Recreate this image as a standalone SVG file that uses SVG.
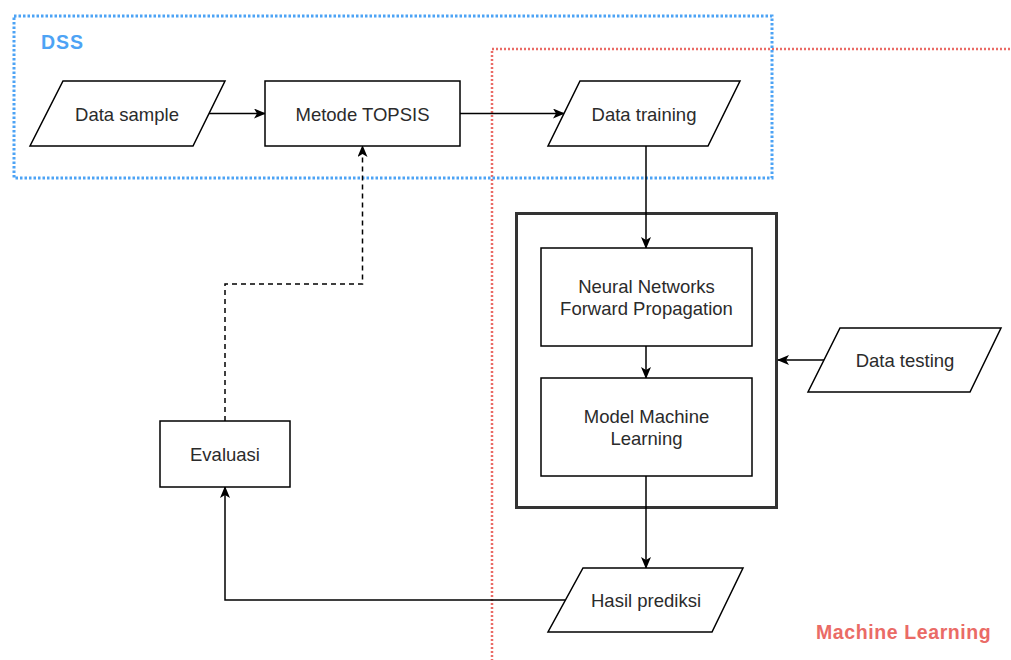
<svg xmlns="http://www.w3.org/2000/svg" width="1011" height="660" viewBox="0 0 1011 660">
  <style>
    .shape { fill: #ffffff; stroke: #000000; stroke-width: 1.5; }
    .label { font-family: "Liberation Sans", Arial, sans-serif; font-size: 18.5px; fill: #2b2b2b; text-anchor: middle; }
    .title { font-family: "Liberation Sans", Arial, sans-serif; font-size: 19.5px; font-weight: bold; }
    .edge { fill: none; stroke: #000000; stroke-width: 1.5; }
    .dashed { stroke-dasharray: 5 4; }
  </style>
  <defs>
    <marker id="arrow" viewBox="0 0 12 10" refX="11" refY="5" markerWidth="12" markerHeight="10" markerUnits="userSpaceOnUse" orient="auto">
      <path d="M0,0 L12,5 L0,10 L3,5 z" fill="#000000"/>
    </marker>
  </defs>

  <rect width="1011" height="660" fill="#ffffff"/>

  <!-- swimlane-like groupings -->
  <g id="ml-region">
    <rect x="492" y="49" width="620" height="700" fill="none" stroke="#ea6b66" stroke-width="2.5" stroke-dasharray="2 2"/>
    <text class="title" x="816" y="639" fill="#ea6b66" letter-spacing="0.6">Machine Learning</text>
  </g>
  <g id="dss-region">
    <rect x="14" y="16" width="758" height="162" fill="none" stroke="#4da3f5" stroke-width="3" stroke-dasharray="2.5 2"/>
    <text class="title" x="41" y="49" fill="#4da3f5" letter-spacing="1">DSS</text>
  </g>

  <!-- model container -->
  <g id="model-container">
    <rect x="516.5" y="213.5" width="260" height="294" fill="none" stroke="#333333" stroke-width="3"/>
  </g>

  <g id="connectors">
    <line class="edge" x1="209" y1="113.5" x2="265" y2="113.5" marker-end="url(#arrow)"/>
    <line class="edge" x1="460" y1="113.5" x2="564" y2="113.5" marker-end="url(#arrow)"/>
    <line class="edge" x1="646" y1="146" x2="646" y2="248" marker-end="url(#arrow)"/>
    <line class="edge" x1="646" y1="346" x2="646" y2="378" marker-end="url(#arrow)"/>
    <line class="edge" x1="646" y1="476" x2="646" y2="568" marker-end="url(#arrow)"/>
    <line class="edge" x1="824" y1="360" x2="778" y2="360" marker-end="url(#arrow)"/>
    <polyline class="edge" points="565,600 225,600 225,487" marker-end="url(#arrow)"/>
    <polyline class="edge dashed" points="225,421 225,284 362.5,284 362.5,146" marker-end="url(#arrow)"/>
  </g>

  <g id="data-sample">
    <polygon class="shape" points="63,81 225,81 193,146 30,146"/>
    <text class="label" x="127" y="120.5">Data sample</text>
  </g>

  <g id="metode-topsis">
    <rect class="shape" x="265" y="81" width="195" height="65"/>
    <text class="label" x="362.5" y="120.5">Metode TOPSIS</text>
  </g>

  <g id="data-training">
    <polygon class="shape" points="580,81 740,81 708,146 548,146"/>
    <text class="label" x="644" y="120.5">Data training</text>
  </g>

  <g id="neural-networks">
    <rect class="shape" x="541" y="248" width="211" height="98"/>
    <text class="label" x="646.5" y="293">Neural Networks</text>
    <text class="label" x="646.5" y="315">Forward Propagation</text>
  </g>

  <g id="model-ml">
    <rect class="shape" x="541" y="378" width="211" height="98"/>
    <text class="label" x="646.5" y="423">Model Machine</text>
    <text class="label" x="646.5" y="445">Learning</text>
  </g>

  <g id="data-testing">
    <polygon class="shape" points="840,328 1001,328 970,392 808,392"/>
    <text class="label" x="905" y="367">Data testing</text>
  </g>

  <g id="hasil-prediksi">
    <polygon class="shape" points="583,568 743,568 712,632 548,632"/>
    <text class="label" x="646" y="607">Hasil prediksi</text>
  </g>

  <g id="evaluasi">
    <rect class="shape" x="160" y="421" width="130" height="66"/>
    <text class="label" x="225" y="461">Evaluasi</text>
  </g>
</svg>
